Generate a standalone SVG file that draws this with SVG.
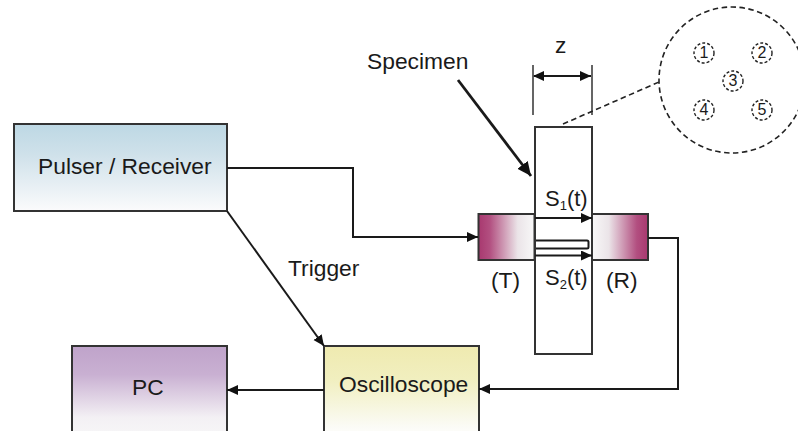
<svg xmlns="http://www.w3.org/2000/svg" width="798" height="431" viewBox="0 0 798 431">
<style>
text{font-family:"Liberation Sans",Arial,sans-serif;fill:#1a1a1a;font-size:22.800px}
.box{stroke:#333;stroke-width:2}
.ln{fill:none;stroke:#1a1a1a;stroke-width:2}
.d{fill:none;stroke:#222;stroke-width:1.600;stroke-dasharray:5.500 3.500}
.d2{fill:none;stroke:#222;stroke-width:1.400;stroke-dasharray:3 2}
.n{font-size:16px;text-anchor:middle}
.sub{font-size:13px}
</style>
<defs>
<linearGradient id="gb" x1="0" y1="0" x2="0" y2="1"><stop offset="0" stop-color="#bdd8e4"/><stop offset=".35" stop-color="#cfe1ea"/><stop offset="1" stop-color="#fbfbfc"/></linearGradient>
<linearGradient id="gp" x1="0" y1="0" x2="0" y2="1"><stop offset="0" stop-color="#bfa3ca"/><stop offset=".3" stop-color="#c9b0d2"/><stop offset=".75" stop-color="#f3f0f4"/><stop offset="1" stop-color="#f8f8f8"/></linearGradient>
<linearGradient id="gy" x1="0" y1="0" x2="0" y2="1"><stop offset="0" stop-color="#efeab0"/><stop offset=".35" stop-color="#f1efbf"/><stop offset=".85" stop-color="#fbfbf6"/><stop offset="1" stop-color="#fff"/></linearGradient>
<linearGradient id="gt" x1="0" y1="0" x2="1" y2="0"><stop offset="0" stop-color="#a8386f"/><stop offset=".2" stop-color="#b24f80"/><stop offset=".7" stop-color="#ebe4e8"/><stop offset="1" stop-color="#f8f8f8"/></linearGradient>
<linearGradient id="gr" x1="1" y1="0" x2="0" y2="0"><stop offset="0" stop-color="#a8386f"/><stop offset=".2" stop-color="#b24f80"/><stop offset=".7" stop-color="#ebe4e8"/><stop offset="1" stop-color="#f8f8f8"/></linearGradient>
<marker id="a" markerUnits="userSpaceOnUse" markerWidth="13" markerHeight="12" refX="11" refY="5" orient="auto"><path d="M0 0L11 5L0 10Z" fill="#111"/></marker>
<marker id="s" markerUnits="userSpaceOnUse" markerWidth="13" markerHeight="12" refX="1" refY="5" orient="auto"><path d="M11 0L0 5L11 10Z" fill="#111"/></marker>
<marker id="b" markerUnits="userSpaceOnUse" markerWidth="16" markerHeight="14" refX="14" refY="6.500" orient="auto"><path d="M0 0L14 6.500L0 13Z" fill="#111"/></marker>
</defs>
<g id="pulser"><rect class="box" x="14" y="124" width="213" height="87" fill="url(#gb)"/><text x="38" y="174">Pulser / Receiver</text></g>
<g id="pc"><rect class="box" x="72" y="346" width="155" height="95" fill="url(#gp)"/><text x="132" y="395">PC</text></g>
<g id="oscilloscope"><rect class="box" x="324" y="346" width="155" height="95" fill="url(#gy)"/><text x="339" y="392">Oscilloscope</text></g>
<g id="transducer-t"><rect class="box" x="478.500" y="214" width="56" height="46" fill="url(#gt)"/><text x="491" y="288">(T)</text></g>
<g id="transducer-r"><rect class="box" x="592" y="214" width="56" height="46" fill="url(#gr)"/><text x="606" y="288">(R)</text></g>
<g id="specimen"><rect x="535" y="127" width="57" height="227" fill="none" stroke="#333" stroke-width="2"/><text x="367" y="69">Specimen</text><text x="555" y="53">z</text><text x="545" y="206" style="font-size:22px">S<tspan class="sub" dy="4">1</tspan><tspan dy="-4">(t)</tspan></text><text x="545" y="285" style="font-size:22px">S<tspan class="sub" dy="4">2</tspan><tspan dy="-4">(t)</tspan></text>
<path d="M536 240.500H587Q588.500 240.500 588.500 242V247Q588.500 248.500 587 248.500H536" fill="#fff" stroke="#1a1a1a" stroke-width="2"/></g>
<g id="detail"><circle class="d" cx="732" cy="80" r="73"/><circle class="d2" cx="704" cy="53" r="10"/><circle class="d2" cx="762" cy="53" r="10"/><circle class="d2" cx="733" cy="81" r="10"/><circle class="d2" cx="704" cy="110" r="10"/><circle class="d2" cx="762" cy="110" r="10"/>
<text class="n" x="704" y="58">1</text><text class="n" x="762" y="58">2</text><text class="n" x="733" y="86">3</text><text class="n" x="704" y="115">4</text><text class="n" x="762" y="115">5</text></g>
<g id="connectors">
<path class="ln" d="M227 168H353V237H478" marker-end="url(#a)"/>
<path class="ln" d="M227 211L324 346" marker-end="url(#a)"/>
<path class="ln" d="M324 390H227" marker-end="url(#a)"/>
<path class="ln" d="M648 238H678V389H479" marker-end="url(#a)"/>
<path class="ln" d="M458 80L531 176" style="stroke-width:2.800" marker-end="url(#b)"/>
<path class="ln" d="M535 218H592" marker-end="url(#a)"/>
<path class="ln" d="M535 255.500H592" marker-end="url(#a)"/>
<path d="M533 65V115M592 65V115" fill="none" stroke="#333" stroke-width="1.500"/>
<path class="ln" d="M534 76H591" marker-start="url(#s)" marker-end="url(#a)"/>
<path class="d" d="M563 124L659 82"/>
<text x="288" y="276">Trigger</text>
</g>
</svg>
